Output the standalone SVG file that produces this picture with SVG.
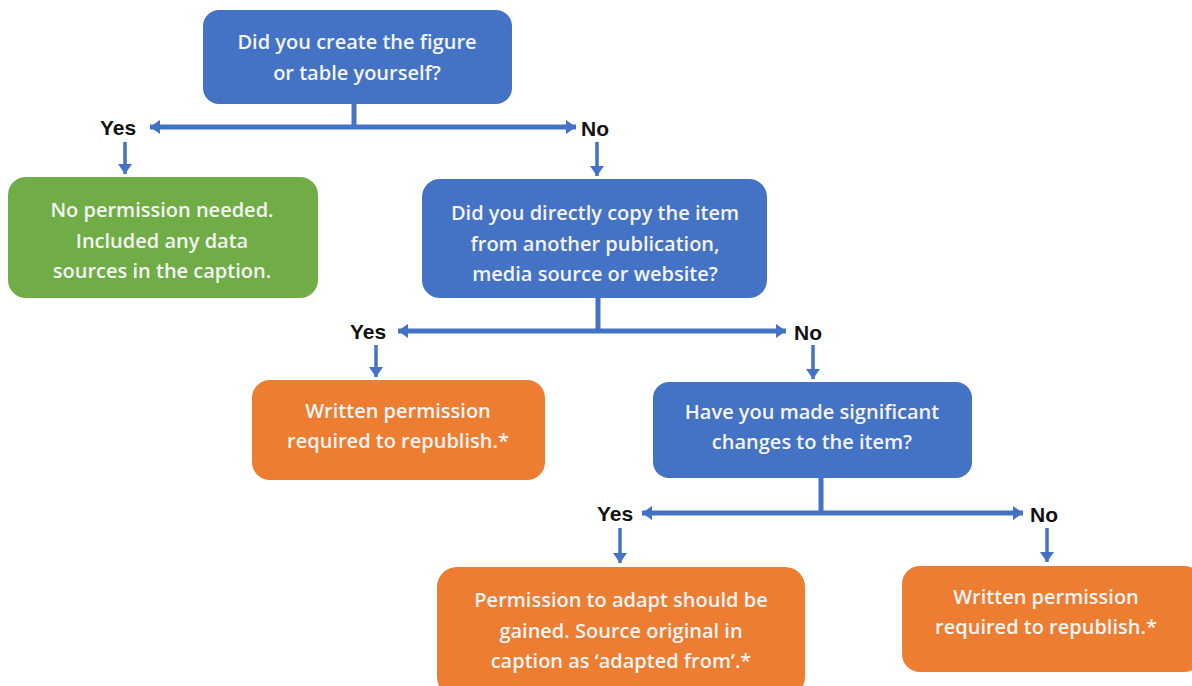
<svg xmlns="http://www.w3.org/2000/svg" width="1192" height="686" viewBox="0 0 1192 686">
<defs>
<marker id="ah" markerUnits="userSpaceOnUse" markerWidth="12" markerHeight="14" refX="10" refY="7" orient="auto-start-reverse">
<path d="M0,0 L10,7 L0,14 Z" fill="#4472C4"/>
</marker>
<style>
.blue{fill:#4472C4}
.green{fill:#70AD47}
.orange{fill:#ED7D31}
.t{font-family:"Open Sans","Noto Sans","Liberation Sans",sans-serif;font-size:20px;font-weight:600;fill:#F4F4F4;text-anchor:middle;dominant-baseline:central}
.lbl{font-family:"Liberation Sans","Noto Sans",sans-serif;font-size:21px;font-weight:bold;fill:#111111;dominant-baseline:central}
.h{stroke:#4472C4;stroke-width:5;fill:none}
.v{stroke:#4472C4;stroke-width:3.5;fill:none}
</style>
</defs>
<rect width="1192" height="686" fill="#FFFFFF"/>
<g id="connectors">
<line class="h" x1="354" y1="104" x2="354" y2="127"/>
<line class="h" x1="150" y1="127" x2="576" y2="127" marker-start="url(#ah)" marker-end="url(#ah)"/>
<line class="v" x1="125" y1="142" x2="125" y2="174" marker-end="url(#ah)"/>
<line class="v" x1="597" y1="142" x2="597" y2="176" marker-end="url(#ah)"/>
<line class="h" x1="598" y1="298" x2="598" y2="331"/>
<line class="h" x1="398" y1="331" x2="786" y2="331" marker-start="url(#ah)" marker-end="url(#ah)"/>
<line class="v" x1="376" y1="345" x2="376" y2="377" marker-end="url(#ah)"/>
<line class="v" x1="813" y1="345" x2="813" y2="379" marker-end="url(#ah)"/>
<line class="h" x1="821" y1="478" x2="821" y2="513"/>
<line class="h" x1="642" y1="513" x2="1023" y2="513" marker-start="url(#ah)" marker-end="url(#ah)"/>
<line class="v" x1="620" y1="528" x2="620" y2="563" marker-end="url(#ah)"/>
<line class="v" x1="1047" y1="528" x2="1047" y2="562" marker-end="url(#ah)"/>
<text class="lbl" x="100" y="127">Yes</text>
<text class="lbl" x="581" y="128">No</text>
<text class="lbl" x="350" y="331">Yes</text>
<text class="lbl" x="794" y="332">No</text>
<text class="lbl" x="597" y="513">Yes</text>
<text class="lbl" x="1030" y="514">No</text>
</g>
<g id="q1">
<rect class="blue" x="203" y="10" width="309" height="94" rx="16"/>
<text class="t" x="357" y="41">Did you create the figure</text>
<text class="t" x="357" y="72">or table yourself?</text>
</g>
<g id="no-permission">
<rect class="green" x="8" y="177" width="310" height="121" rx="18"/>
<text class="t" x="162" y="209">No permission needed.</text>
<text class="t" x="162" y="240">Included any data</text>
<text class="t" x="162" y="270">sources in the caption.</text>
</g>
<g id="q2">
<rect class="blue" x="422" y="179" width="345" height="119" rx="18"/>
<text class="t" x="595" y="212">Did you directly copy the item</text>
<text class="t" x="595" y="243">from another publication,</text>
<text class="t" x="595" y="273">media source or website?</text>
</g>
<g id="written1">
<rect class="orange" x="252" y="380" width="293" height="100" rx="18"/>
<text class="t" x="398" y="410">Written permission</text>
<text class="t" x="398" y="440">required to republish.*</text>
</g>
<g id="q3">
<rect class="blue" x="653" y="382" width="319" height="96" rx="16"/>
<text class="t" x="812" y="411">Have you made significant</text>
<text class="t" x="812" y="441">changes to the item?</text>
</g>
<g id="adapt">
<rect class="orange" x="437" y="567" width="368" height="130" rx="20"/>
<text class="t" x="621" y="599">Permission to adapt should be</text>
<text class="t" x="621" y="630">gained. Source original in</text>
<text class="t" x="621" y="660">caption as ‘adapted from’.*</text>
</g>
<g id="written2">
<rect class="orange" x="902" y="566" width="300" height="106" rx="18"/>
<text class="t" x="1046" y="596">Written permission</text>
<text class="t" x="1046" y="626">required to republish.*</text>
</g>
</svg>
